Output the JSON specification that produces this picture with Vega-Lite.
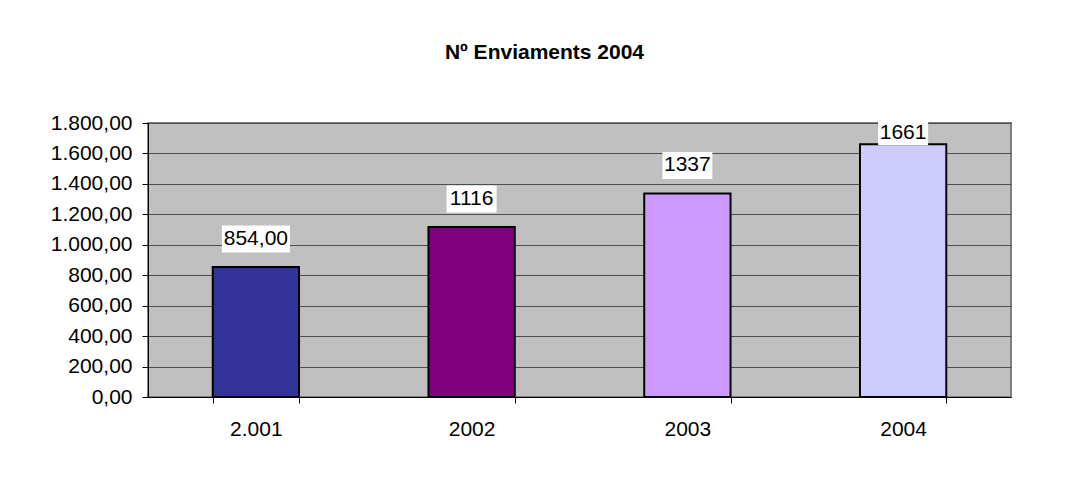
{
  "$schema": "https://vega.github.io/schema/vega-lite/v6.json",
  "width": 863,
  "height": 274,
  "autosize": {"type": "none"},
  "padding": {"left": 148, "top": 123, "right": 67, "bottom": 80},
  "background": "white",
  "title": {
    "text": "Nº Enviaments 2004",
    "font": "Liberation Sans",
    "fontSize": 21,
    "fontWeight": "bold",
    "color": "black",
    "anchor": "middle",
    "dx": -35,
    "offset": 49
  },
  "data": {
    "values": [
      {"year": "2.001", "value": 854, "label": "854,00"},
      {"year": "2002", "value": 1116, "label": "1116"},
      {"year": "2003", "value": 1337, "label": "1337"},
      {"year": "2004", "value": 1661, "label": "1661"}
    ]
  },
  "encoding": {
    "x": {
      "field": "year",
      "type": "nominal",
      "sort": null,
      "scale": {"paddingInner": 0.6, "paddingOuter": 0.3},
      "axis": {
        "title": null,
        "labelAngle": 0,
        "tickBand": "extent",
        "tickSize": 6,
        "tickColor": "black",
        "domainColor": "black",
        "labelFont": "Liberation Sans",
        "labelFontSize": 21,
        "labelColor": "black",
        "labelPadding": 15,
        "grid": false
      }
    },
    "y": {
      "field": "value",
      "type": "quantitative",
      "scale": {"domain": [0, 1800], "nice": false},
      "axis": {
        "title": null,
        "values": [0, 200, 400, 600, 800, 1000, 1200, 1400, 1600, 1800],
        "labelExpr": "replace(replace(replace(format(datum.value, ',.2f'), ',', '#'), '.', ','), '#', '.')",
        "tickSize": 6,
        "tickColor": "black",
        "domainColor": "black",
        "labelFont": "Liberation Sans",
        "labelFontSize": 21,
        "labelColor": "black",
        "labelPadding": 10,
        "grid": true,
        "gridColor": "#4d4d4d",
        "gridWidth": 1
      }
    }
  },
  "layer": [
    {
      "mark": {"type": "bar", "stroke": "black", "strokeWidth": 2},
      "encoding": {
        "color": {
          "field": "year",
          "type": "nominal",
          "scale": {
            "domain": ["2.001", "2002", "2003", "2004"],
            "range": ["#333399", "#800080", "#CC99FF", "#CCCCFF"]
          },
          "legend": null
        }
      }
    },
    {
      "transform": [{"filter": "datum.value < 1600"}],
      "layer": [
        {
          "mark": {"type": "tick", "color": "white", "opacity": 1, "thickness": 27, "yOffset": -28},
          "encoding": {
            "size": {"condition": {"test": "datum.year == '2.001'", "value": 68}, "value": 50}
          }
        },
        {
          "mark": {"type": "text", "font": "Liberation Sans", "fontSize": 21, "color": "black", "baseline": "middle", "yOffset": -28},
          "encoding": {"text": {"field": "label"}}
        }
      ]
    },
    {
      "transform": [{"filter": "datum.value >= 1600"}],
      "layer": [
        {
          "mark": {"type": "tick", "color": "white", "opacity": 1, "thickness": 24, "yOffset": -11},
          "encoding": {
            "size": {"value": 50}
          }
        },
        {
          "mark": {"type": "text", "font": "Liberation Sans", "fontSize": 21, "color": "black", "baseline": "middle", "yOffset": -11},
          "encoding": {"text": {"field": "label"}}
        }
      ]
    }
  ],
  "config": {
    "view": {"fill": "#c0c0c0", "stroke": "#808080", "strokeWidth": 2}
  }
}
